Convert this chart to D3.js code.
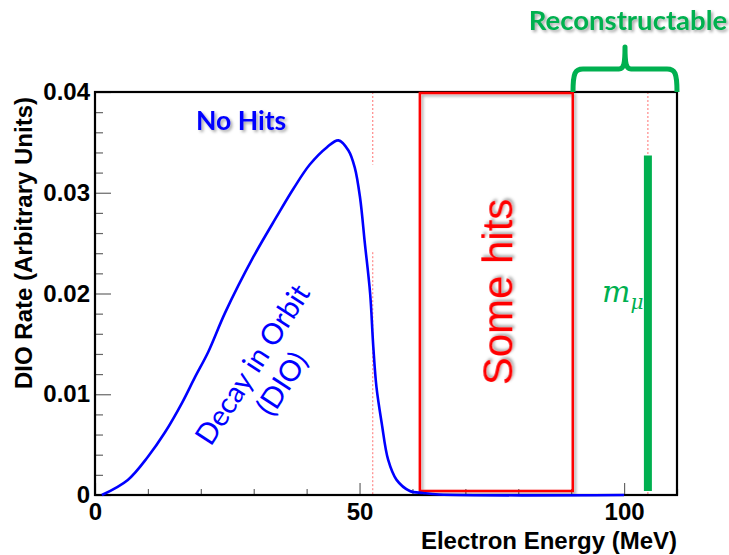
<!DOCTYPE html>
<html>
<head>
<meta charset="utf-8">
<script src="https://cdn.jsdelivr.net/npm/d3@7"></script>
<style>
  html, body { margin: 0; padding: 0; background: #fff; }
  svg { display: block; }
</style>
</head>
<body>
<svg id="chart" width="729" height="555"></svg>
<script>
// DIO spectrum: electron energy (MeV) vs rate (arbitrary units)
const energy = [1.3, 6.2, 10.0, 13.2, 16.4, 18.9, 21.4, 24.6, 29.9, 34.3, 37.5, 40.6, 43.8, 46.0, 47.9, 49.1, 50.1, 51.0, 52.0, 52.6, 53.2, 54.2, 55.4, 57.0, 59.5, 62.0, 65.0, 100.0];
const rate   = [0, 0.0015, 0.0038, 0.0062, 0.0091, 0.0117, 0.0142, 0.0181, 0.0236, 0.0276, 0.0304, 0.0328, 0.0345, 0.0352, 0.0342, 0.0325, 0.0295, 0.0250, 0.0200, 0.0147, 0.0107, 0.0071, 0.0035, 0.0015, 0.0004, 0.0002, 0.00005, 0];

// Axis ticks
const xMajorTicks = [0, 50, 100];
const xMinorTicks = [10, 20, 30, 40, 60, 70, 80, 90, 110];
const yMajorTicks = [0, 0.01, 0.02, 0.03, 0.04];
const yMinorTicks = [0.002, 0.004, 0.006, 0.008, 0.012, 0.014, 0.016, 0.018, 0.022, 0.024, 0.026, 0.028, 0.032, 0.034, 0.036, 0.038];

// Reference energies: Michel edge and conversion-electron energy
const michelEdge = 52.5;
const conversionEnergy = 104.5;
const michelSegments = [[0.04, 0.0328], [0.0241, 0]];
const conversionPeak = [0.0004, 0.0337];

// "Some hits" region
const someHitsRange = [61.4, 90.3];
const someHitsRate = [0.0004, 0.0399];

const xDomain = [0, 110];
const yDomain = [0, 0.04];

const svg = d3.select("#chart");
const x = d3.scaleLinear().domain(xDomain).range([95, 677]);
const y = d3.scaleLinear().domain(yDomain).range([495, 92]);

const defs = svg.append("defs");
const shadow = defs.append("filter").attr("id", "shadow")
  .attr("x", "-20%").attr("y", "-20%").attr("width", "140%").attr("height", "140%");
shadow.append("feDropShadow").attr("dx", 2).attr("dy", 2).attr("stdDeviation", 1.5)
  .attr("flood-color", "#000").attr("flood-opacity", 0.35);

const green = "#00b050";
const labelFont = "'Liberation Sans', Arial, Helvetica, sans-serif";
const noteFont = "Lato, 'Open Sans', sans-serif";

// Dashed reference lines
const dash = svg.append("g").attr("stroke", "#ff7070").attr("stroke-width", 1)
  .attr("stroke-dasharray", "2,2").attr("fill", "none");
michelSegments.forEach(s => {
  dash.append("line").attr("x1", x(michelEdge)).attr("x2", x(michelEdge))
    .attr("y1", y(s[0])).attr("y2", y(s[1]));
});
dash.append("line").attr("x1", x(conversionEnergy)).attr("x2", x(conversionEnergy))
  .attr("y1", y(yDomain[1])).attr("y2", y(0));

// Minor ticks
svg.append("g").attr("transform", `translate(0,${y(0)})`)
  .call(d3.axisBottom(x).tickValues(xMinorTicks).tickSizeInner(-6).tickSizeOuter(0).tickFormat(""))
  .call(g => g.select(".domain").remove())
  .call(g => g.selectAll("line").attr("stroke", "#666").attr("stroke-width", 1.2));
svg.append("g").attr("transform", `translate(${x(0)},0)`)
  .call(d3.axisLeft(y).tickValues(yMinorTicks).tickSizeInner(-8).tickSizeOuter(0).tickFormat(""))
  .call(g => g.select(".domain").remove())
  .call(g => g.selectAll("line").attr("stroke", "#666").attr("stroke-width", 1.2));

// Major ticks with labels
const xAxis = svg.append("g").attr("transform", `translate(0,${y(0)})`)
  .call(d3.axisBottom(x).tickValues(xMajorTicks).tickSizeInner(-12).tickSizeOuter(0).tickPadding(8)
    .tickFormat(d3.format("d")));
xAxis.select(".domain").remove();
xAxis.selectAll("line").attr("stroke", "#666").attr("stroke-width", 1.2);
xAxis.selectAll("text").attr("font-family", labelFont).attr("font-weight", "bold")
  .attr("font-size", 24).attr("fill", "#000");

const yAxis = svg.append("g").attr("transform", `translate(${x(0)},0)`)
  .call(d3.axisLeft(y).tickValues(yMajorTicks).tickSizeInner(-16).tickSizeOuter(0).tickPadding(5)
    .tickFormat(d => d === 0 ? "0" : d3.format(".2f")(d)));
yAxis.select(".domain").remove();
yAxis.selectAll("line").attr("stroke", "#666").attr("stroke-width", 1.2);
yAxis.selectAll("text").attr("font-family", labelFont).attr("font-weight", "bold")
  .attr("font-size", 24).attr("fill", "#000");

// Frame
svg.append("rect").attr("x", x(xDomain[0])).attr("y", y(yDomain[1]))
  .attr("width", x(xDomain[1]) - x(xDomain[0])).attr("height", y(0) - y(yDomain[1]))
  .attr("fill", "none").attr("stroke", "#000").attr("stroke-width", 2.2);

// Axis titles
svg.append("text").attr("x", x(xDomain[1])).attr("y", 549).attr("text-anchor", "end")
  .attr("font-family", labelFont).attr("font-weight", "bold").attr("font-size", 24)
  .text("Electron Energy (MeV)");
svg.append("text").attr("transform", `translate(32,243) rotate(-90)`)
  .attr("text-anchor", "middle")
  .attr("font-family", labelFont).attr("font-weight", "bold").attr("font-size", 24)
  .text("DIO Rate (Arbitrary Units)");

// "Some hits" box
svg.append("rect").attr("x", x(someHitsRange[0])).attr("y", y(someHitsRate[1]))
  .attr("width", x(someHitsRange[1]) - x(someHitsRange[0]))
  .attr("height", y(someHitsRate[0]) - y(someHitsRate[1]))
  .attr("fill", "none").attr("stroke", "#ff0000").attr("stroke-width", 2.5)
  .attr("filter", "url(#shadow)");
svg.append("text")
  .attr("transform", `translate(${(x(someHitsRange[0]) + x(someHitsRange[1])) / 2 + 16},${292}) rotate(-90)`)
  .attr("text-anchor", "middle").attr("font-family", labelFont).attr("font-size", 42)
  .attr("fill", "#ff0000").attr("filter", "url(#shadow)").text("Some hits");

// Spectrum curve
const pts = energy.map((e, i) => [e, rate[i]]);
svg.append("path").datum(pts)
  .attr("d", d3.line().x(d => x(d[0])).y(d => y(d[1])).curve(d3.curveCatmullRom.alpha(0.5)))
  .attr("fill", "none").attr("stroke", "#0000ff").attr("stroke-width", 2.6);

// Conversion-electron peak
svg.append("line").attr("x1", x(conversionEnergy)).attr("x2", x(conversionEnergy))
  .attr("y1", y(conversionPeak[0])).attr("y2", y(conversionPeak[1]))
  .attr("stroke", green).attr("stroke-width", 8);

// m_mu label
const mu = svg.append("text").attr("x", 602).attr("y", 302)
  .attr("font-family", "'DejaVu Serif', 'Liberation Serif', serif").attr("font-style", "italic")
  .attr("font-size", 30).attr("fill", green);
mu.append("tspan").text("m");
mu.append("tspan").attr("font-size", 20).attr("dy", 7).text("μ");

// Annotations
svg.append("text").attr("x", 196).attr("y", 130).attr("font-family", noteFont)
  .attr("font-weight", "bold").attr("font-size", 26.5).attr("fill", "#0000ff")
  .attr("filter", "url(#shadow)").text("No Hits");

const dio = svg.append("g").attr("transform", "translate(261,370) rotate(-57)");
dio.append("text").attr("text-anchor", "middle").attr("font-family", noteFont)
  .attr("font-size", 29).attr("fill", "#0000ff").attr("y", 0).text("Decay in Orbit");
dio.append("text").attr("text-anchor", "middle").attr("font-family", noteFont)
  .attr("font-size", 29).attr("fill", "#0000ff").attr("y", 35).text("(DIO)");

svg.append("text").attr("x", 628).attr("y", 30).attr("text-anchor", "middle")
  .attr("font-family", noteFont).attr("font-weight", "bold").attr("font-size", 27.5)
  .attr("fill", green).attr("filter", "url(#shadow)").text("Reconstructable");

// Bracket over the reconstructable range
const bx0 = 573, bx1 = 677, bmid = (bx0 + bx1) / 2, btop = 69, bbot = 92;
svg.append("path")
  .attr("d", `M${bx0},${bbot} C${bx0},${btop + 4} ${bx0 + 2},${btop} ${bx0 + 10},${btop}
    L${bmid - 6},${btop} C${bmid - 1},${btop} ${bmid},${btop - 6} ${bmid},${btop - 22}
    C${bmid},${btop - 6} ${bmid + 1},${btop} ${bmid + 6},${btop}
    L${bx1 - 10},${btop} C${bx1 - 2},${btop} ${bx1},${btop + 4} ${bx1},${bbot}`)
  .attr("fill", "none").attr("stroke", green).attr("stroke-width", 5).attr("stroke-linejoin", "round");
</script>
</body>
</html>
